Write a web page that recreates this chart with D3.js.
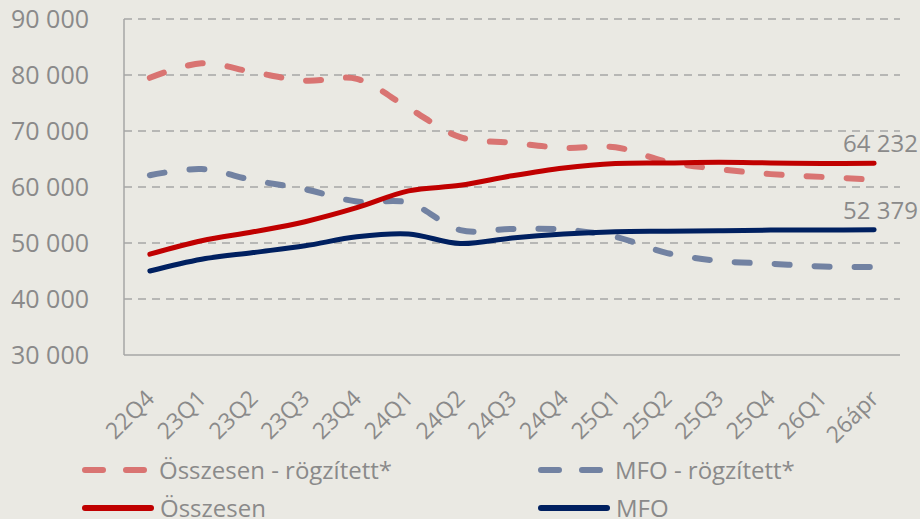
<!DOCTYPE html>
<html>
<head>
<meta charset="utf-8">
<script src="https://cdn.jsdelivr.net/npm/d3@7"></script>
<style>
  html, body { margin: 0; padding: 0; background: #eae9e3; }
  svg { display: block; font-family: "Open Sans", "Noto Sans", sans-serif; }
</style>
</head>
<body>
<script>
let categories = ['22Q4', '23Q1', '23Q2', '23Q3', '23Q4', '24Q1', '24Q2', '24Q3', '24Q4', '25Q1', '25Q2', '25Q3', '25Q4', '26Q1', '26ápr'];

// series values
let osszesenFix = [79500, 82100, 80500, 79000, 79300, 74100, 68900, 67900, 67000, 67100, 64500, 63200, 62300, 61800, 61300];
let mfoFix = [62100, 63200, 61200, 59600, 57400, 57200, 52300, 52500, 52400, 51100, 48200, 46800, 46300, 45800, 45700];
let osszesen = [48000, 50400, 52000, 53800, 56300, 59300, 60300, 62000, 63400, 64200, 64300, 64400, 64300, 64200, 64232];
let mfo = [45000, 47100, 48300, 49500, 51100, 51600, 49900, 50900, 51600, 52000, 52100, 52200, 52300, 52300, 52379];

let yTicks = [30000, 40000, 50000, 60000, 70000, 80000, 90000];

let width = 920;
let height = 519;
let mLeft = 124, mRight = 900, mTop = 19, mBottom = 355;

let svg = d3.select('body').append('svg')
    .attr('width', width)
    .attr('height', height);

let x = d3.scalePoint()
    .domain(categories)
    .range([mLeft, mRight])
    .padding(0.5);

let y = d3.scaleLinear()
    .domain([30000, 90000])
    .range([mBottom, mTop]);

let fmt = v => d3.format(',')(v).replace(/,/g, ' ');

// grid
svg.selectAll('.grid')
    .data(yTicks.slice(1))
    .join('line')
    .attr('class', 'grid')
    .attr('x1', mLeft)
    .attr('x2', mRight)
    .attr('y1', d => y(d))
    .attr('y2', d => y(d))
    .attr('stroke', '#a6a6a6')
    .attr('stroke-width', 1.5)
    .attr('stroke-dasharray', '8,6');

// axes lines
svg.append('line')
    .attr('x1', mLeft).attr('x2', mLeft)
    .attr('y1', y(90000)).attr('y2', y(30000))
    .attr('stroke', '#a6a6a6').attr('stroke-width', 1.5);
svg.append('line')
    .attr('x1', mLeft).attr('x2', mRight)
    .attr('y1', y(30000)).attr('y2', y(30000))
    .attr('stroke', '#a6a6a6').attr('stroke-width', 1.5);

svg.selectAll('.ytick')
    .data(yTicks)
    .join('text')
    .attr('class', 'ytick')
    .attr('x', 89)
    .attr('y', d => y(d) + 9)
    .attr('text-anchor', 'end')
    .attr('font-size', 25)
    .attr('fill', '#8a8a8a')
    .text(d => fmt(d));

svg.selectAll('.xtick')
    .data(categories)
    .join('text')
    .attr('class', 'xtick')
    .attr('transform', d => `translate(${x(d) + 6},${mBottom + 45}) rotate(-45)`)
    .attr('text-anchor', 'end')
    .attr('font-size', 23)
    .attr('fill', '#8a8a8a')
    .text(d => d);

let line = d3.line()
    .x((d, i) => x(categories[i]))
    .y(d => y(d))
    .curve(d3.curveCatmullRom.alpha(0.5));

let series = [
    {name: 'Összesen - rögzített*', values: osszesenFix, color: '#d97472', dash: '15,25'},
    {name: 'MFO - rögzített*', values: mfoFix, color: '#7282a2', dash: '15,25'},
    {name: 'Összesen', values: osszesen, color: '#c00000', dash: null},
    {name: 'MFO', values: mfo, color: '#002060', dash: null}
];

svg.selectAll('.series')
    .data(series)
    .join('path')
    .attr('class', 'series')
    .attr('d', d => line(d.values))
    .attr('fill', 'none')
    .attr('stroke', d => d.color)
    .attr('stroke-width', d => d.dash ? 6 : 5)
    .attr('stroke-linecap', 'round')
    .attr('stroke-linejoin', 'round')
    .attr('stroke-dasharray', d => d.dash);

// end labels
let last = categories.length - 1;
svg.selectAll('.endlabel')
    .data([osszesen, mfo])
    .join('text')
    .attr('class', 'endlabel')
    .attr('x', 843)
    .attr('y', d => y(d[last]) - 11)
    .attr('font-size', 24)
    .attr('fill', '#8a8a8a')
    .text(d => fmt(d[last]));

// legend
let legendPos = [
    {lx: 82, ly: 470},
    {lx: 538, ly: 470},
    {lx: 82, ly: 508},
    {lx: 538, ly: 508}
];

let lg = svg.selectAll('.legend')
    .data(series)
    .join('g')
    .attr('class', 'legend')
    .attr('transform', (d, i) => `translate(${legendPos[i].lx},${legendPos[i].ly})`);

lg.append('line')
    .attr('x1', 3)
    .attr('x2', d => d.dash ? 63 : 69)
    .attr('y1', 0).attr('y2', 0)
    .attr('stroke', d => d.color)
    .attr('stroke-width', 6)
    .attr('stroke-linecap', 'round')
    .attr('stroke-dasharray', d => d.dash ? '18,23' : null);

lg.append('text')
    .attr('x', d => d.dash ? 77 : 78)
    .attr('y', 9)
    .attr('font-size', 24)
    .attr('fill', '#8a8a8a')
    .text(d => d.name);
</script>
</body>
</html>
